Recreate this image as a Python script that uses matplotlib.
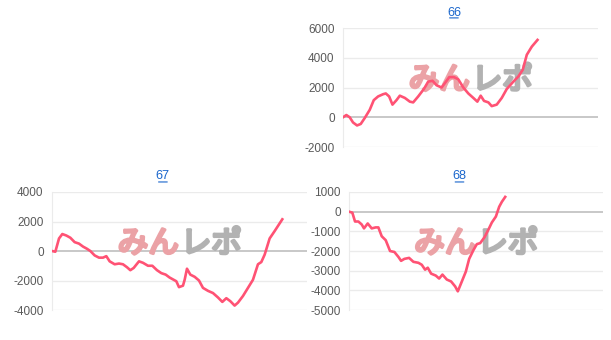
import matplotlib
matplotlib.use("Agg")
import matplotlib.pyplot as plt
import matplotlib.patheffects as pe

plt.rcParams['font.family'] = ['Liberation Sans', 'DejaVu Sans']

# games played (x) and medal difference (y) per machine number
titles = ["66", "67", "68"]

games_66 = [0, 131, 262, 393, 550, 695, 852, 1048, 1206, 1376, 1573, 1678, 1809, 1940, 2097, 2228,
            2425, 2621, 2752, 2949, 3172, 3342, 3512, 3670, 3866, 3997, 4168, 4351, 4522, 4718,
            4915, 5111, 5269, 5400, 5531, 5701, 5832, 6029, 6226, 6422, 6684, 6881, 7051, 7208,
            7405, 7628]
diff_66 = [0, 150, 0, -350, -550, -450, -50, 500, 1150, 1400, 1550, 1600, 1400, 850, 1150, 1450,
           1300, 1050, 1000, 1400, 1900, 2400, 2450, 2150, 2000, 2300, 2700, 2700, 2550, 2000,
           1600, 1300, 1050, 1450, 1100, 1000, 750, 850, 1300, 1900, 2400, 2750, 3200, 4200,
           4750, 5200]

games_67 = [0, 131, 275, 405, 562, 719, 889, 1059, 1216, 1373, 1503, 1673, 1843, 2000, 2131, 2261,
            2458, 2627, 2784, 2941, 3072, 3203, 3412, 3569, 3765, 3935, 4118, 4288, 4458, 4614,
            4771, 4876, 4980, 5137, 5203, 5294, 5425, 5595, 5765, 5922, 6118, 6314, 6510, 6680,
            6837, 6993, 7163, 7294, 7490, 7686, 7882, 8078, 8209, 8340, 8536, 8732, 9033]
diff_67 = [0, -50, 850, 1150, 1050, 900, 600, 500, 300, 150, 0, -300, -450, -450, -350, -700,
           -900, -850, -900, -1100, -1300, -1150, -700, -800, -1000, -1000, -1300, -1500, -1600,
           -1800, -1950, -2050, -2450, -2350, -1950, -1200, -1600, -1750, -2000, -2500, -2700,
           -2850, -3150, -3450, -3200, -3400, -3700, -3500, -3050, -2500, -1950, -900, -750,
           -250, 850, 1350, 2150]

games_68 = [0, 131, 237, 368, 499, 591, 736, 894, 1051, 1156, 1288, 1445, 1616, 1787, 1945, 2050,
            2181, 2365, 2536, 2733, 2865, 2996, 3101, 3233, 3417, 3548, 3679, 3850, 4021, 4179,
            4284, 4442, 4599, 4731, 4901, 5033, 5164, 5335, 5493, 5624, 5782, 5913, 6018, 6150]
diff_68 = [0, -50, -500, -500, -650, -850, -600, -850, -800, -800, -1250, -1450, -2000, -2050,
           -2300, -2500, -2400, -2350, -2550, -2600, -2700, -2950, -2850, -3150, -3250, -3400,
           -3200, -3450, -3550, -3800, -4050, -3550, -3050, -2400, -1950, -1650, -1600, -1300,
           -900, -550, -250, 250, 500, 750]

yticks_66 = [-2000, 0, 2000, 4000, 6000]
yticks_67 = [-4000, -2000, 0, 2000, 4000]
yticks_68 = [-5000, -4000, -3000, -2000, -1000, 0, 1000]

GAME_MAX = 10000
LINE = '#ff5274'
LINK = '#1a66cc'

fig = plt.figure(figsize=(6.11, 3.4), dpi=100)


def draw(rect, title, xs, ys, ticks):
    ax = fig.add_axes(rect)
    ax.set_xlim(0, GAME_MAX)
    ax.set_ylim(ticks[0], ticks[-1])
    ax.set_yticks(ticks)
    ax.set_yticklabels([str(t) for t in ticks])
    for t in ticks:
        ax.axhline(t, color='#c4c4c4' if t == 0 else '#ebebeb', lw=1.3 if t == 0 else 1, zorder=0)
    for s in ['top', 'right', 'bottom']:
        ax.spines[s].set_visible(False)
    ax.spines['left'].set_color('#ebebeb')
    ax.tick_params(axis='y', length=0, pad=6, labelsize=8.5, labelcolor='#5a5a5a')
    ax.tick_params(axis='x', length=0, labelbottom=False)
    # watermark logo
    pink, grey = '#eba2a6', '#b2b2b2'
    ax.text(0.497, 0.56, 'みん', transform=ax.transAxes, ha='right', va='center',
            fontsize=22, color=pink, family='Noto Sans CJK JP', zorder=1,
            path_effects=[pe.withStroke(linewidth=2.2, foreground=pink)])
    ax.text(0.505, 0.56, 'レポ', transform=ax.transAxes, ha='left', va='center',
            fontsize=22, color=grey, family='Noto Sans CJK JP', zorder=1,
            path_effects=[pe.withStroke(linewidth=2.2, foreground=grey)])
    ax.plot(xs, ys, color=LINE, lw=1.9, zorder=3, solid_joinstyle='round')
    ax.set_title(title, color=LINK, fontsize=9.2, pad=9, x=0.435)
    # link underline
    ax.annotate('', xy=(0.407, 1.085), xytext=(0.463, 1.085), xycoords='axes fraction',
                arrowprops=dict(arrowstyle='-', color=LINK, lw=0.8))
    return ax


draw([0.5614, 0.5676, 0.4173, 0.35], titles[0], games_66, diff_66, yticks_66)
draw([0.0851, 0.0882, 0.4173, 0.3471], titles[1], games_67, diff_67, yticks_67)
draw([0.5712, 0.0882, 0.4157, 0.3471], titles[2], games_68, diff_68, yticks_68)

plt.savefig('out.png', dpi=100)
